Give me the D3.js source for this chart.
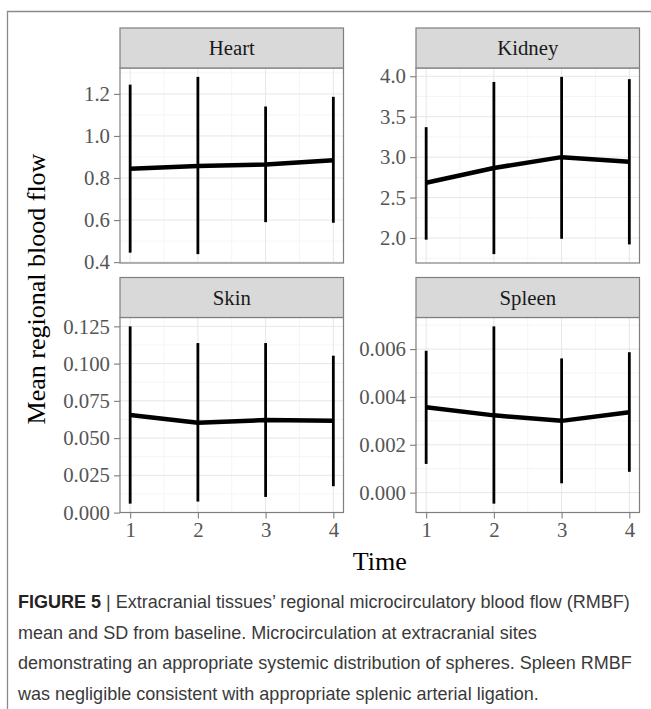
<!DOCTYPE html>
<html>
<head>
<meta charset="utf-8">
<script src="https://cdn.jsdelivr.net/npm/d3@7"></script>
<style>
  html, body { margin: 0; padding: 0; background: #fff; }
  svg { display: block; }
</style>
</head>
<body>
<svg id="chart" width="651" height="709"></svg>
<script>
// ---------- data ----------
const times = [1, 2, 3, 4];
const tissues = ["Heart", "Kidney", "Skin", "Spleen"];

const heartMean  = [0.844, 0.857, 0.864, 0.884];
const heartLower = [0.445, 0.438, 0.590, 0.587];
const heartUpper = [1.244, 1.281, 1.140, 1.186];

const kidneyMean  = [2.683, 2.866, 3.000, 2.943];
const kidneyLower = [1.979, 1.800, 1.990, 1.920];
const kidneyUpper = [3.371, 3.930, 3.993, 3.965];

const skinMean  = [0.0655, 0.0603, 0.0621, 0.0616];
const skinLower = [0.0060, 0.0074, 0.0105, 0.0177];
const skinUpper = [0.1250, 0.1138, 0.1138, 0.1053];

const spleenMean  = [0.00357, 0.00323, 0.00300, 0.00336];
const spleenLower = [0.00120, -0.00046, 0.00039, 0.00087];
const spleenUpper = [0.00593, 0.00695, 0.00561, 0.00587];

const heartTicks  = [0.4, 0.6, 0.8, 1.0, 1.2];
const kidneyTicks = [2.0, 2.5, 3.0, 3.5, 4.0];
const skinTicks   = [0.000, 0.025, 0.050, 0.075, 0.100, 0.125];
const spleenTicks = [0.000, 0.002, 0.004, 0.006];

const heartMinor  = [0.5, 0.7, 0.9, 1.1, 1.3];
const kidneyMinor = [1.75, 2.25, 2.75, 3.25, 3.75];
const skinMinor   = [0.0125, 0.0375, 0.0625, 0.0875, 0.1125];
const spleenMinor = [0.001, 0.003, 0.005, 0.007];
const xMinor = [1.5, 2.5, 3.5];

const xLabel = "Time";
const yLabel = "Mean regional blood flow";
const captionBold = "FIGURE 5";
const captionLines = [
  " | Extracranial tissues\u2019 regional microcirculatory blood flow (RMBF)",
  "mean and SD from baseline. Microcirculation at extracranial sites",
  "demonstrating an appropriate systemic distribution of spheres. Spleen RMBF",
  "was negligible consistent with appropriate splenic arterial ligation."
];

// ---------- layout ----------
const svg = d3.select("#chart");
const serif = "'Liberation Serif', 'Times New Roman', serif";
const sans = "'Liberation Sans', Arial, sans-serif";

const colX = [120, 416];
const panelW = 223.5;
const rowStripTop = [28, 277.5];
const stripH = 40;
const panelH = 195;

const panels = [
  { name: tissues[0], mean: heartMean, lo: heartLower, hi: heartUpper, ticks: heartTicks, minor: heartMinor, fmt: d3.format(".1f"), col: 0, row: 0 },
  { name: tissues[1], mean: kidneyMean, lo: kidneyLower, hi: kidneyUpper, ticks: kidneyTicks, minor: kidneyMinor, fmt: d3.format(".1f"), col: 1, row: 0 },
  { name: tissues[2], mean: skinMean, lo: skinLower, hi: skinUpper, ticks: skinTicks, minor: skinMinor, fmt: d3.format(".3f"), col: 0, row: 1 },
  { name: tissues[3], mean: spleenMean, lo: spleenLower, hi: spleenUpper, ticks: spleenTicks, minor: spleenMinor, fmt: d3.format(".3f"), col: 1, row: 1 }
];

// outer frame (top + left)
svg.append("path")
  .attr("d", "M7.5,709 L7.5,11.5 L651,11.5")
  .attr("fill", "none").attr("stroke", "#8a8a8a").attr("stroke-width", 1.3);

const xDomain = [times[0] - 0.15, times[times.length - 1] + 0.15];

panels.forEach(p => {
  const x0 = colX[p.col];
  const sTop = rowStripTop[p.row];
  const pTop = sTop + stripH;
  const pBot = pTop + panelH;

  const x = d3.scaleLinear().domain(xDomain).range([x0, x0 + panelW]);
  const lo = d3.min(p.lo), hi = d3.max(p.hi);
  const pad = (hi - lo) * 0.05;
  const y = d3.scaleLinear().domain([lo - pad, hi + pad]).range([pBot, pTop]);

  const g = svg.append("g");

  // panel background
  g.append("rect").attr("x", x0).attr("y", pTop).attr("width", panelW).attr("height", panelH).attr("fill", "#fff");

  // minor grid
  g.selectAll(".minY").data(p.minor.filter(v => v > y.domain()[0] && v < y.domain()[1])).join("line")
    .attr("x1", x0).attr("x2", x0 + panelW)
    .attr("y1", d => y(d)).attr("y2", d => y(d))
    .attr("stroke", "#f2f2f2").attr("stroke-width", 0.8);
  g.selectAll(".minX").data(xMinor).join("line")
    .attr("x1", d => x(d)).attr("x2", d => x(d))
    .attr("y1", pTop).attr("y2", pBot)
    .attr("stroke", "#f2f2f2").attr("stroke-width", 0.8);
  // major grid
  g.selectAll(".majY").data(p.ticks).join("line")
    .attr("x1", x0).attr("x2", x0 + panelW)
    .attr("y1", d => y(d)).attr("y2", d => y(d))
    .attr("stroke", "#e6e6e6").attr("stroke-width", 1);
  g.selectAll(".majX").data(times).join("line")
    .attr("x1", d => x(d)).attr("x2", d => x(d))
    .attr("y1", pTop).attr("y2", pBot)
    .attr("stroke", "#e6e6e6").attr("stroke-width", 1);

  // mean line
  const pts = times.map((t, i) => [t, p.mean[i]]);
  g.append("path")
    .attr("d", d3.line().x(d => x(d[0])).y(d => y(d[1]))(pts))
    .attr("fill", "none").attr("stroke", "#000").attr("stroke-width", 4.5)
    .attr("stroke-linejoin", "round").attr("stroke-linecap", "butt");

  // error bars
  g.selectAll(".err").data(times).join("line")
    .attr("x1", d => x(d)).attr("x2", d => x(d))
    .attr("y1", (d, i) => y(p.lo[i])).attr("y2", (d, i) => y(p.hi[i]))
    .attr("stroke", "#000").attr("stroke-width", 2.8);

  // panel border
  g.append("rect").attr("x", x0).attr("y", pTop).attr("width", panelW).attr("height", panelH)
    .attr("fill", "none").attr("stroke", "#7f7f7f").attr("stroke-width", 1.2);

  // strip
  g.append("rect").attr("x", x0).attr("y", sTop).attr("width", panelW).attr("height", stripH)
    .attr("fill", "#d9d9d9").attr("stroke", "#7f7f7f").attr("stroke-width", 1.2);
  g.append("text").attr("x", x0 + panelW / 2).attr("y", sTop + stripH / 2 + 7)
    .attr("text-anchor", "middle").attr("font-family", serif).attr("font-size", 20.8)
    .attr("fill", "#1a1a1a").text(p.name);

  // y axis
  const yAxis = d3.axisLeft(y).tickValues(p.ticks).tickFormat(p.fmt).tickSize(6).tickPadding(4);
  const ya = g.append("g").attr("transform", `translate(${x0},0)`).call(yAxis);
  ya.select(".domain").remove();
  ya.selectAll(".tick line").attr("stroke", "#7f7f7f").attr("stroke-width", 1.1);
  ya.selectAll(".tick text").attr("font-family", serif).attr("font-size", 20.8).attr("fill", "#555");

  // x axis only on bottom row
  if (p.row === 1) {
    const xAxis = d3.axisBottom(x).tickValues(times).tickFormat(d3.format("d")).tickSize(6).tickPadding(4);
    const xa = g.append("g").attr("transform", `translate(0,${pBot})`).call(xAxis);
    xa.select(".domain").remove();
    xa.selectAll(".tick line").attr("stroke", "#7f7f7f").attr("stroke-width", 1.1);
    xa.selectAll(".tick text").attr("font-family", serif).attr("font-size", 20.8).attr("fill", "#555");
  }
});

// axis titles
svg.append("text").attr("x", (colX[0] + colX[1] + panelW) / 2).attr("y", 570)
  .attr("text-anchor", "middle").attr("font-family", serif).attr("font-size", 26)
  .attr("fill", "#000").text(xLabel);
svg.append("text").attr("transform", "translate(45,289) rotate(-90)")
  .attr("text-anchor", "middle").attr("font-family", serif).attr("font-size", 26)
  .attr("fill", "#000").text(yLabel);

// caption
const cap = svg.append("g").attr("font-family", sans).attr("fill", "#3a3a3a");
const capBase = [608, 638.5, 669, 699.5];
const lines = captionLines.map((t, i) => {
  const tx = cap.append("text").attr("x", 18).attr("y", capBase[i]).attr("font-size", 19);
  if (i === 0) tx.append("tspan").attr("font-weight", "bold").attr("fill", "#222").text(captionBold);
  tx.append("tspan").text(t);
  return tx;
});
// fit first line to measured width in reference
const w0 = lines[0].node().getComputedTextLength();
const fs = 19 * 612 / w0;
lines.forEach(l => l.attr("font-size", fs));
</script>
</body>
</html>
